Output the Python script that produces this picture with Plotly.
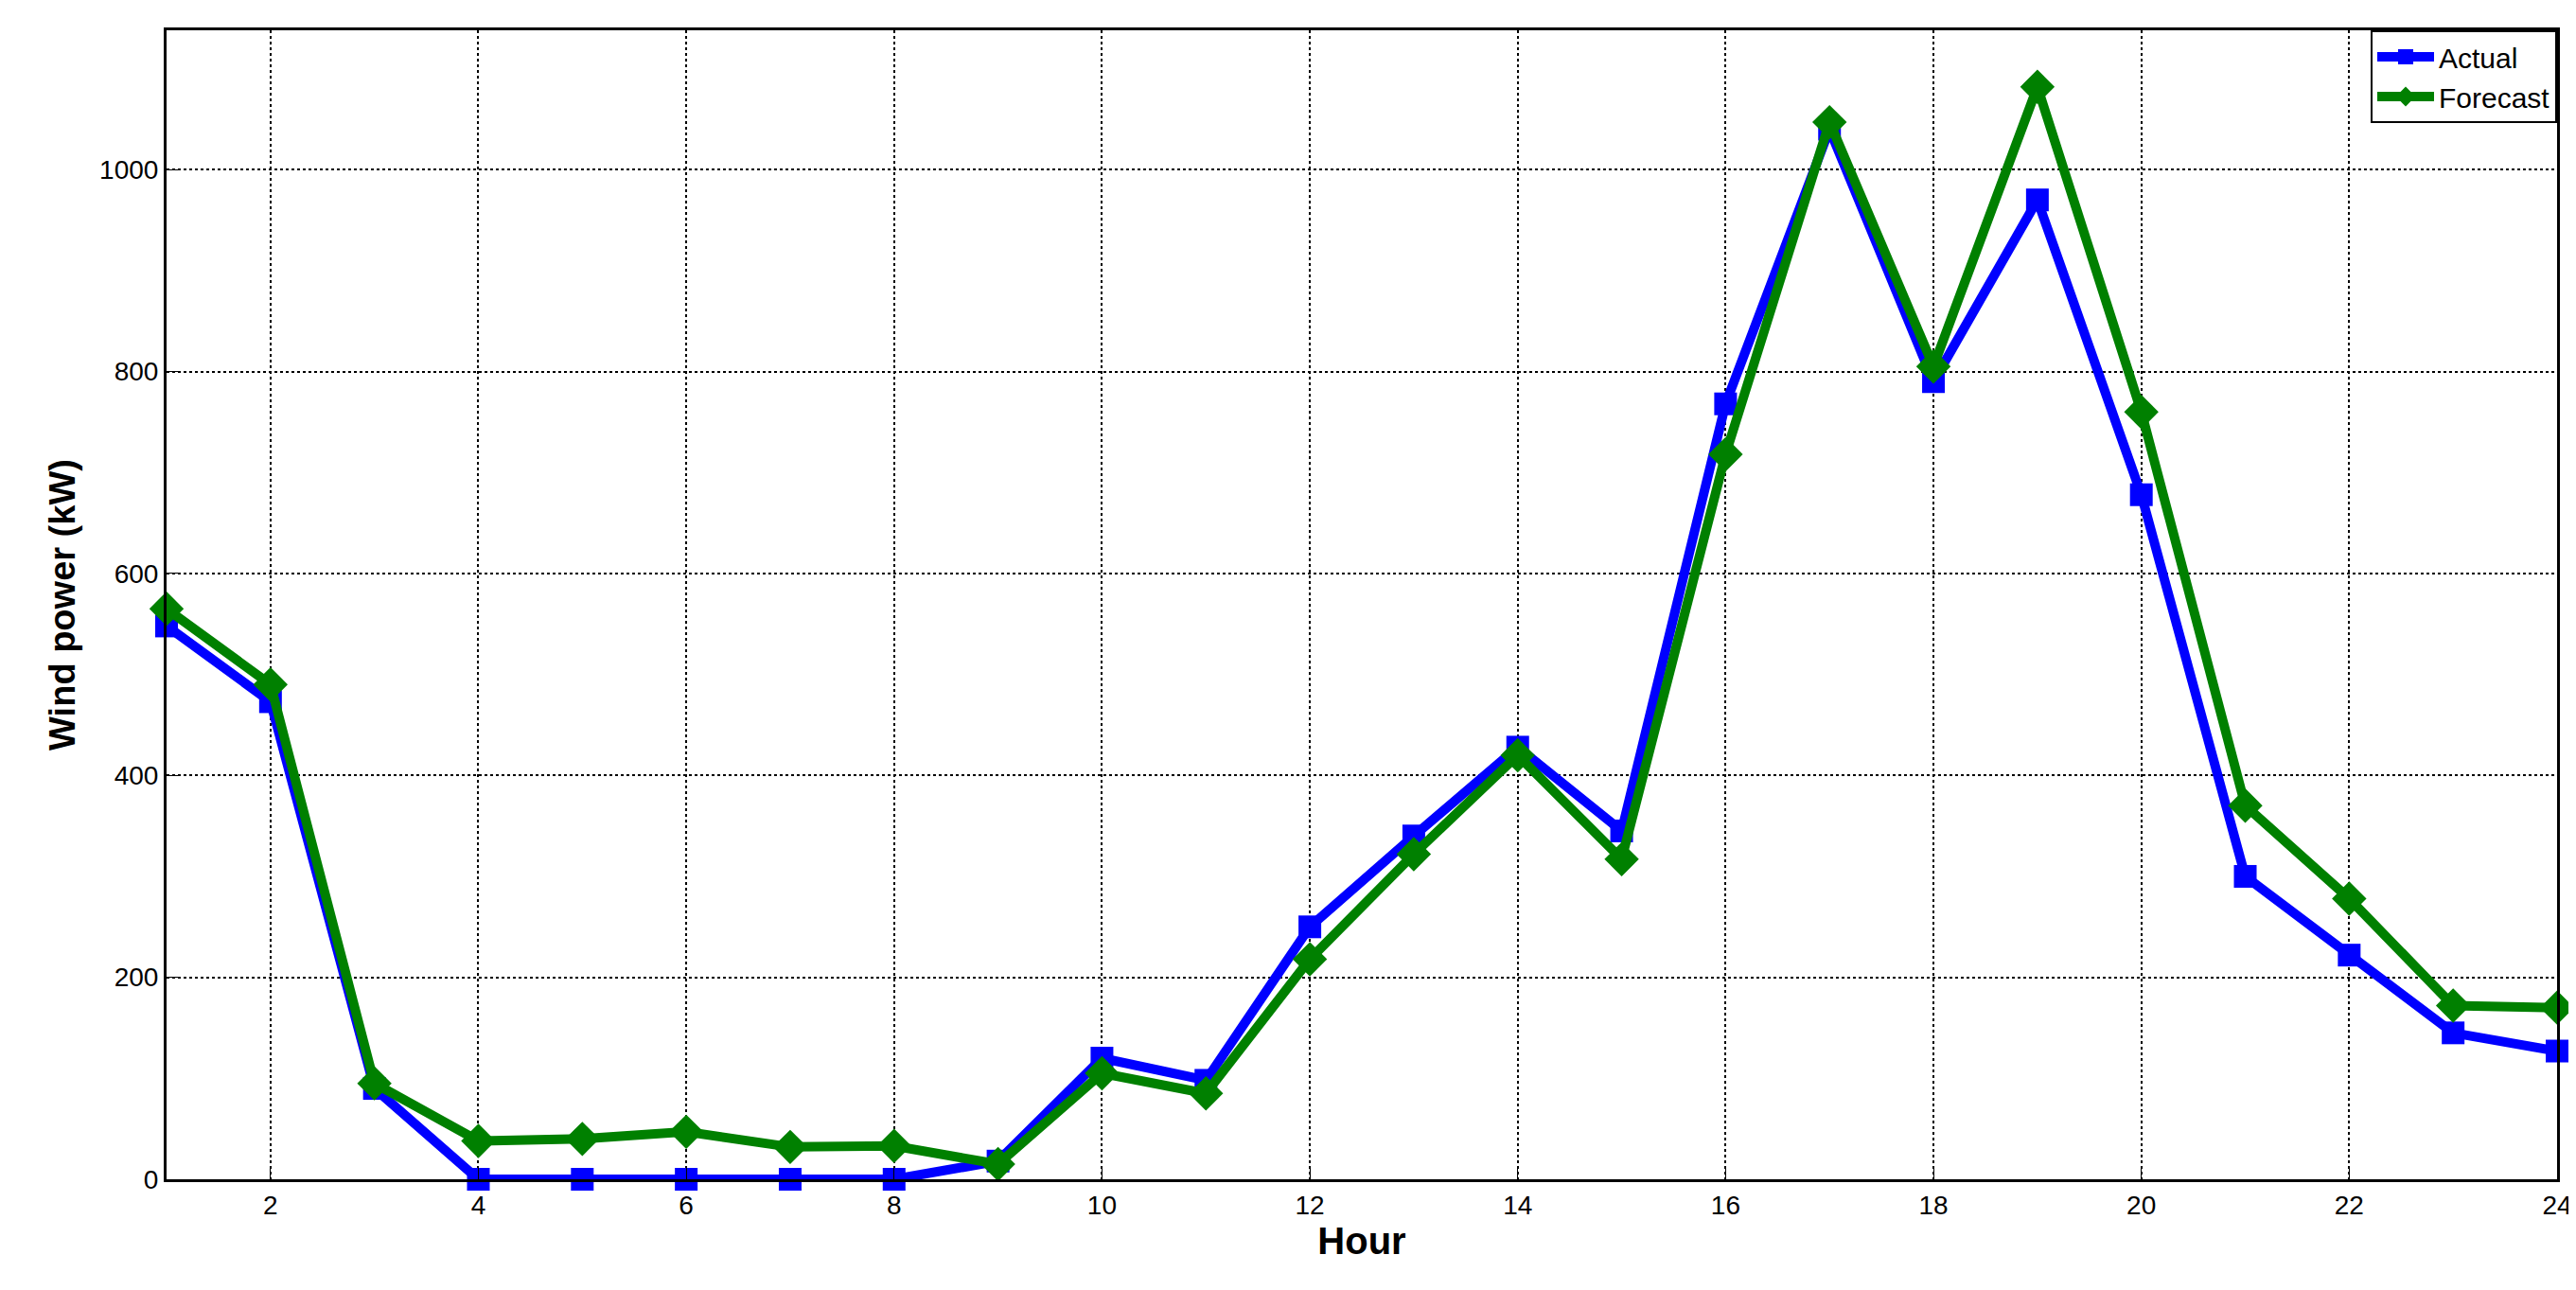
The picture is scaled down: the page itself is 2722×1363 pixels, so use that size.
import plotly.graph_objects as go

hours = list(range(1, 25))
actual = [548, 473, 90, 0, 0, 0, 0, 0, 18, 120, 98, 250, 340, 428, 345, 768,
          1040, 790, 970, 678, 300, 222, 145, 127]
forecast = [565, 490, 95, 38, 40, 47, 32, 33, 15, 105, 85, 218, 322, 420, 317, 718,
            1047, 805, 1082, 760, 370, 278, 172, 170]

fig = go.Figure()
fig.add_trace(go.Scatter(x=hours, y=actual, name="Actual", mode="lines+markers",
                         line=dict(color="#0000ff", width=10),
                         marker=dict(symbol="square", size=24, color="#0000ff"),
                         cliponaxis=False))
fig.add_trace(go.Scatter(x=hours, y=forecast, name="Forecast", mode="lines+markers",
                         line=dict(color="#008000", width=10),
                         marker=dict(symbol="diamond", size=28, color="#008000"),
                         cliponaxis=False))

ax = dict(showline=True, linecolor="black", linewidth=3, mirror=True,
          gridcolor="black", griddash="dot", gridwidth=1.5, ticks="inside",
          ticklen=12, tickcolor="black", zeroline=False,
          tickfont=dict(size=28, color="black", family="Arial Black, Arial"))
fig.update_layout(
    width=2722, height=1363, plot_bgcolor="white", paper_bgcolor="white",
    margin=dict(l=168, r=26, t=24, b=125),
    font=dict(family="Arial", color="black"),
    showlegend=True,
    xaxis=dict(ax, range=[1, 24], tickvals=list(range(2, 25, 2)),
               title=dict(text="<b>Hour</b>", font=dict(size=40), standoff=4)),
    yaxis=dict(ax, range=[0, 1138], tickvals=[0, 200, 400, 600, 800, 1000],
               title=dict(text="<b>Wind power (kW)</b>", font=dict(size=38), standoff=14)),
    legend=dict(x=1, y=1, xanchor="right", yanchor="top", bordercolor="black",
                borderwidth=2, bgcolor="white", itemwidth=60,
                font=dict(size=30, family="Arial Black, Arial")),
)
fig.write_html("out.html")
